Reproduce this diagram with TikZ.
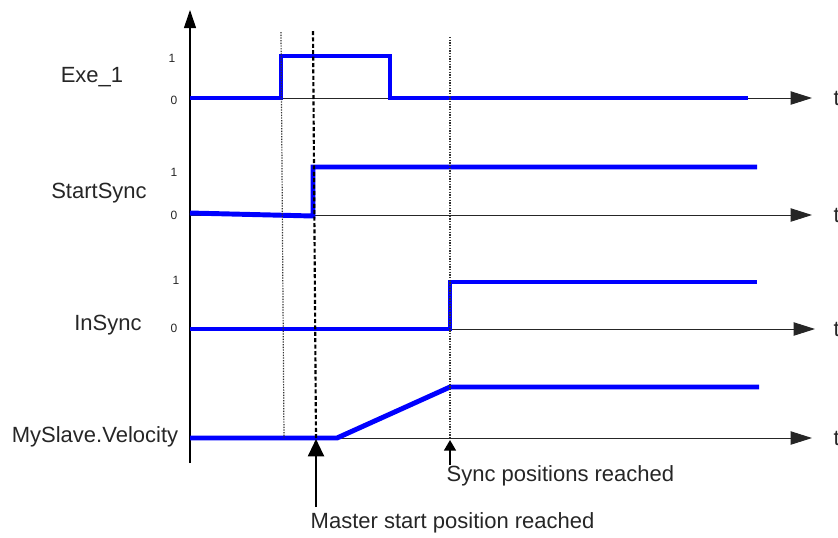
\documentclass[tikz,border=0pt]{standalone}
\usepackage{fontspec}
\setmainfont{Liberation Sans}
\usetikzlibrary{arrows.meta}
\begin{document}
\begin{tikzpicture}[x=0.75pt, y=-0.75pt,
  sig/.style={blue, line width=3.7pt, line join=miter},
  taxis/.style={line width=0.7pt, draw=black!85, -{Triangle[length=16pt,width=10pt]}},
  lbl/.style={font=\fontsize{16.5}{18}\selectfont, text=black!85},
  lvl/.style={font=\fontsize{9}{10}\selectfont, text=black!85},
  guide/.style={line width=0.9pt, draw=black!80, dash pattern=on 1pt off 1pt},
  guidebold/.style={line width=1.6pt, dash pattern=on 3pt off 1.8pt}]
  \useasboundingbox (0,0) rectangle (838,537);

  % value axis
  \coordinate (O) at (190,463);
  \coordinate (top) at (190,10);
  \draw[line width=0.8pt, -{Triangle[length=13.5pt,width=9pt]}] (O) -- (top);

  % time axes
  \foreach \n/\y/\e in {exe/98/812, start/215/812, in/329/815, vel/438/812} {
    \coordinate (\n0) at (190,\y);
    \coordinate (\n1) at (\e,\y);
    \draw[taxis] (\n0) -- (\n1);
    \node[lbl, anchor=west] (t\n) at (829,\y) {t};
  }

  % signals
  \draw[sig] (exe0) -- (281,98) -- (281,56) -- (390,56) -- (390,98) -- (748,98);
  \draw[sig] (190,213) -- (313,216) -- (313,167) -- (757,167);
  \draw[sig] (in0) -- (450,329) -- (450,282) -- (757,282);
  \draw[sig] (vel0) -- (337,438) -- (450,387) -- (759,387);

  % guide lines
  \draw[guide] (281,32) -- (284,438);
  \draw[guidebold] (313,31) -- (316,438);
  \draw[guide] (450,37) -- (450,438);

  % signal names
  \node[lbl] (exe) at (92,77) {Exe\_1};
  \node[lbl] (startsync) at (99,193) {StartSync};
  \node[lbl] (insync) at (108,325) {InSync};
  \node[lbl] (vel) at (95,437) {MySlave.Velocity};

  % levels
  \node[lvl] (exe1) at (172,58) {1};
  \node[lvl] (exe0l) at (174,100) {0};
  \node[lvl] (start1) at (174,172) {1};
  \node[lvl] (start0l) at (174,215) {0};
  \node[lvl] (in1) at (176,280) {1};
  \node[lvl] (in0l) at (174,328) {0};

  % events
  \coordinate (mtip) at (316,439);
  \coordinate (mbot) at (316,507);
  \draw[line width=1.6pt, -{Triangle[length=13pt,width=12pt]}] (mbot) -- (mtip);
  \node[lbl, anchor=west] (master) at (306,523) {Master start position reached};

  \coordinate (stip) at (450,440);
  \coordinate (sbot) at (450,465);
  \draw[line width=1.2pt, -{Triangle[length=8pt,width=9pt]}] (sbot) -- (stip);
  \node[lbl, anchor=west] (sync) at (442,476) {Sync positions reached};
\end{tikzpicture}
\end{document}
